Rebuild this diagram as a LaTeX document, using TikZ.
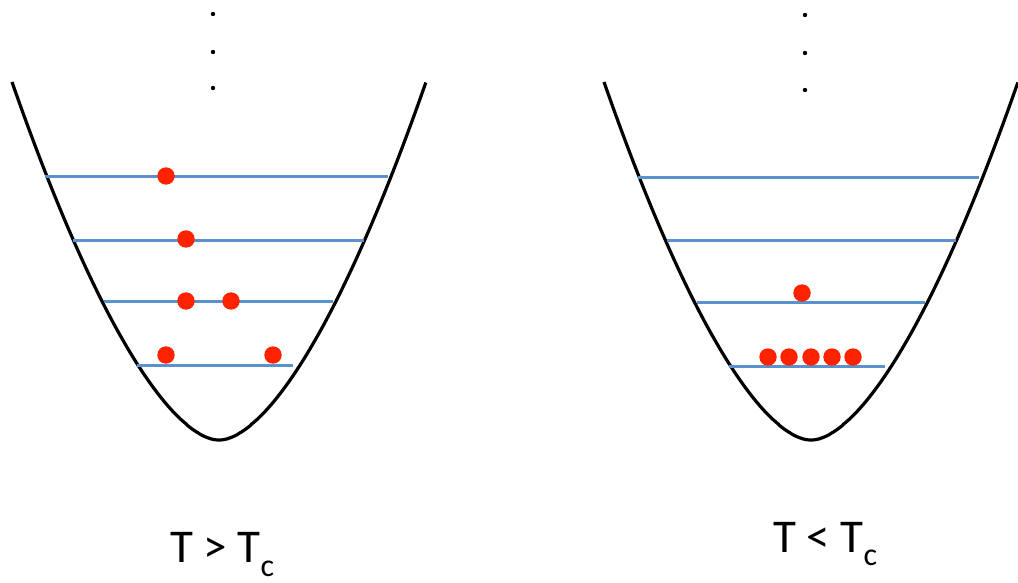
\documentclass[tikz,border=0pt]{standalone}
\usepackage{fontspec}
\setmainfont{Carlito}
\definecolor{lvl}{RGB}{91,146,204}
\definecolor{ptc}{RGB}{255,34,0}
\begin{document}
\begin{tikzpicture}[x=1pt,y=-1pt,
  well/.style={draw=black,line width=3.2pt,line join=round},
  level/.style={draw=lvl,line width=3pt},
  particle/.style={fill=ptc},
  vdot/.style={fill=black},
  lbl/.style={anchor=base west,inner sep=0pt,font=\fontsize{47}{56}\selectfont}]
\useasboundingbox (0,0) rectangle (1018,583);
% wells
\pgfmathsetmacro{\gz}{(0.0225)^0.82}
\pgfmathsetmacro{\gmax}{(2.07*2.07+0.0225)^0.82-\gz}
\foreach \cx in {219,811}{
  \draw[well] plot[domain=-2.07:2.07,samples=241,variable=\v]
    ({\cx+100*\v},{440-358*(((\v*\v+0.0225)^0.82)-\gz)/\gmax});
}
% levels left
\draw[level] (45,177) -- (388,177);
\draw[level] (73,240) -- (364,240);
\draw[level] (104,301) -- (333,301);
\draw[level] (137,365) -- (293,365);
% levels right
\draw[level] (638,178) -- (979,178);
\draw[level] (667,240) -- (956,240);
\draw[level] (697,302) -- (925,302);
\draw[level] (729,366) -- (885,366);
% vertical ellipsis dots
\foreach \y in {14,52,88} \fill[vdot] (213,\y) circle (2.2);
\foreach \y in {15,53,90} \fill[vdot] (805,\y) circle (2.2);
% particles left
\foreach \p in {(166,176),(186,239),(186,301),(231,301),(166,355),(273,355)}
  \fill[particle] \p circle (8.7);
% particles right
\foreach \p in {(802,293),(768,357),(789,357),(811,357),(832,357),(853,357)}
  \fill[particle] \p circle (8.7);
% labels
\node[lbl] (lhot) at (170,562) {T > T\raisebox{-14pt}{\fontsize{32}{36}\selectfont c}};
\node[lbl] (lcold) at (773,552) {T < T\raisebox{-13pt}{\fontsize{32}{36}\selectfont c}};
\end{tikzpicture}
\end{document}
